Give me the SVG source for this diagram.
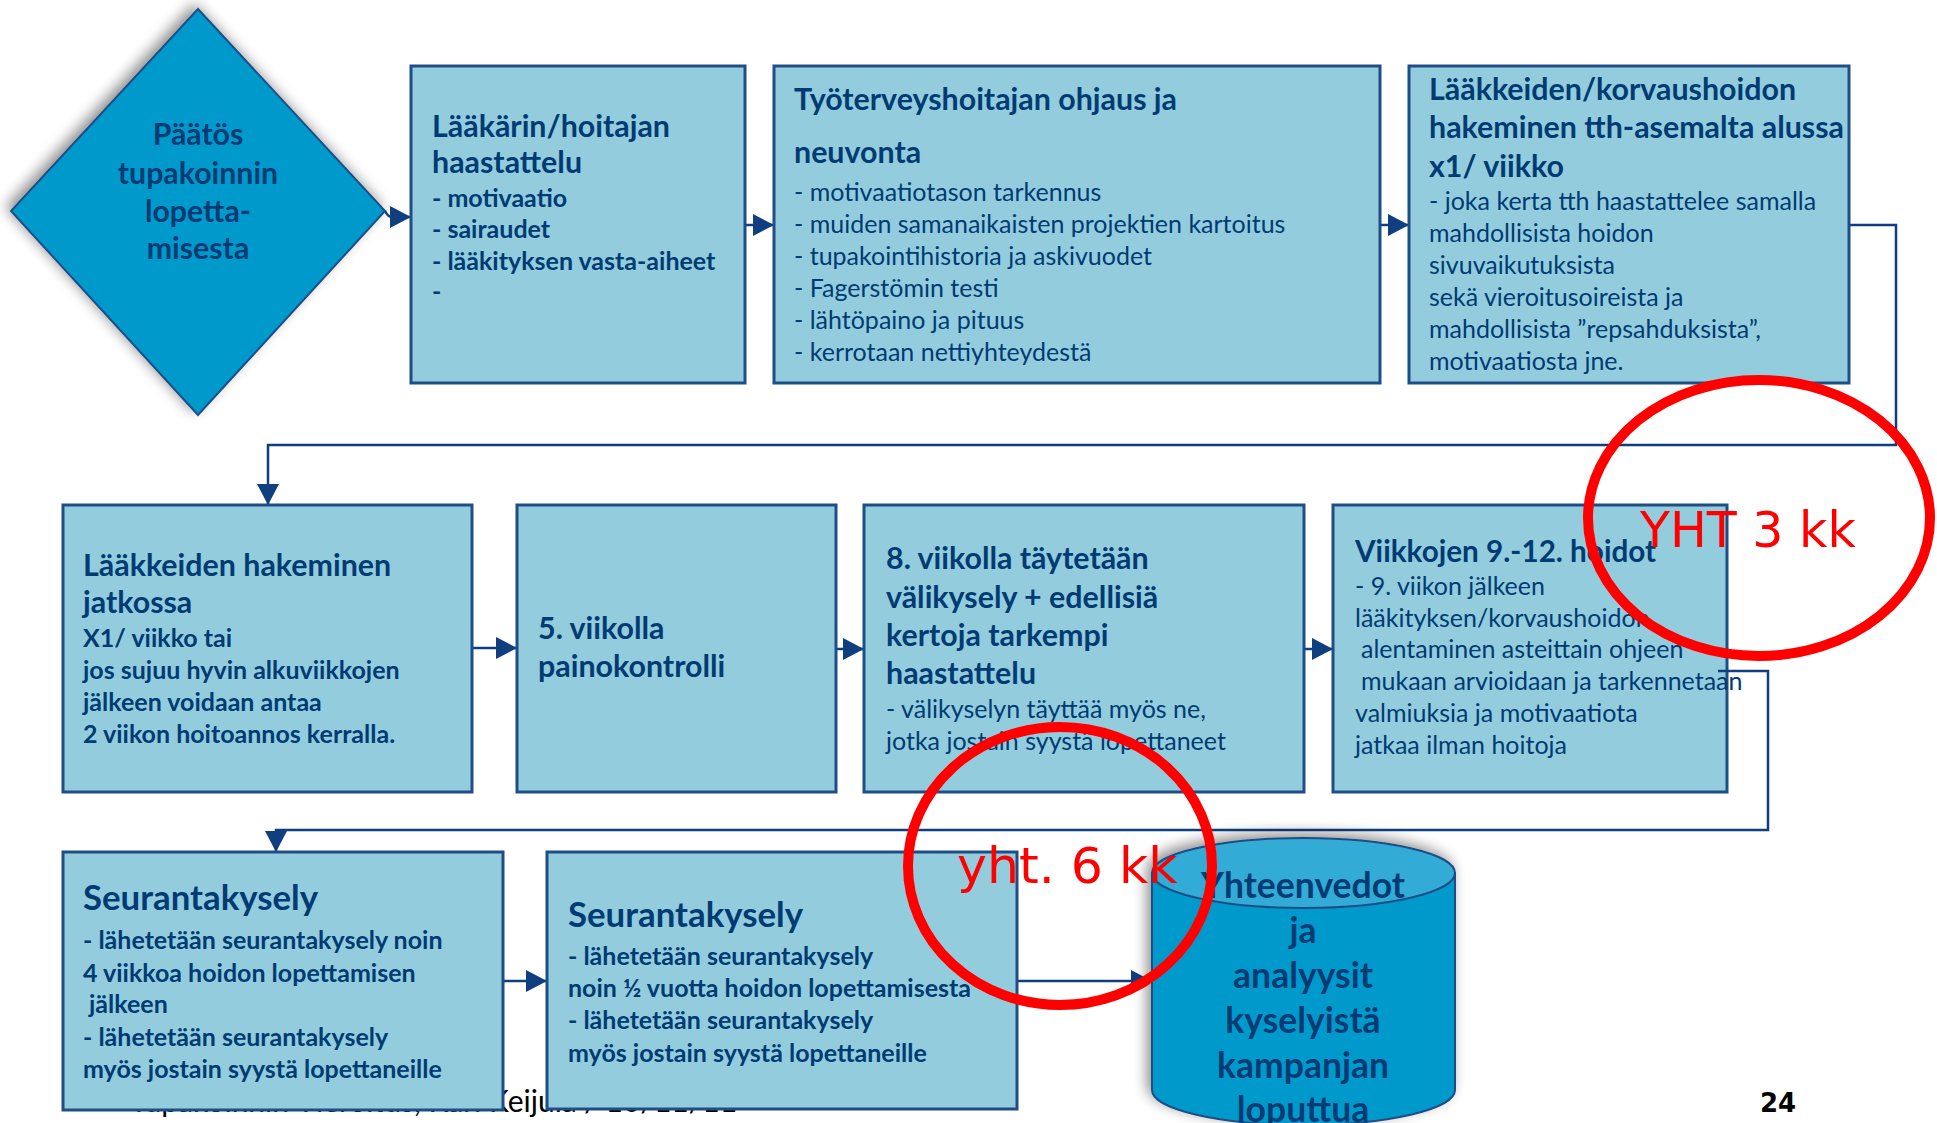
<svg xmlns="http://www.w3.org/2000/svg" width="1937" height="1123" viewBox="0 0 1937 1123">
<style>
.box{fill:#93CDDD;stroke:#1F4E86;stroke-width:3}
.t{font-family:Lato,"Liberation Sans",sans-serif;fill:#003B73}
.b{font-weight:bold}
.h{font-size:30.4px}
.s{font-size:25px}
.con{fill:none;stroke:#0F3F7F;stroke-width:2.5}
.red{fill:none;stroke:#FF0000;stroke-width:10}
.rt{font-family:"DejaVu Sans",sans-serif;fill:#FF0000}
</style>
<defs>
<marker id="ah" markerUnits="userSpaceOnUse" markerWidth="22" markerHeight="22" refX="21" refY="11" orient="auto">
<path d="M0,0 L21,11 L0,22 Z" fill="#0F3F7F"/>
</marker>
<filter id="sh" x="-20%" y="-20%" width="140%" height="140%">
<feGaussianBlur in="SourceAlpha" stdDeviation="7"/>
<feOffset dx="-4" dy="-4" result="b"/>
<feComponentTransfer><feFuncA type="linear" slope="0.45"/></feComponentTransfer>
<feMerge><feMergeNode/><feMergeNode in="SourceGraphic"/></feMerge>
</filter>
</defs>
<rect width="1937" height="1123" fill="#FFFFFF"/>
<text x="130" y="1112" font-family="Lato,'Liberation Sans',sans-serif" font-size="30" fill="#000000">Tupakoinnin Vieroitus, Kari Keijula / 10/11/11</text>
<g id="connectors">
<path class="con" d="M385,211 Q388,217 392,217 L411,217" marker-end="url(#ah)"/>
<path class="con" d="M745,225 L774,225" marker-end="url(#ah)"/>
<path class="con" d="M1380,225 L1409,225" marker-end="url(#ah)"/>
<path class="con" d="M1849,225 L1896,225 L1896,445 L268,445 L268,505" marker-end="url(#ah)"/>
<path class="con" d="M472,648 L517,648" marker-end="url(#ah)"/>
<path class="con" d="M836,649 L864,649" marker-end="url(#ah)"/>
<path class="con" d="M1304,649 L1333,649" marker-end="url(#ah)"/>
<path class="con" d="M503,981 L547,981" marker-end="url(#ah)"/>
<path class="con" d="M1017,981 L1152,981" marker-end="url(#ah)"/>
</g>
<g id="n0">
<polygon points="198,9 385,211 198,415 11,211" fill="#0099CC" stroke="#1F4E86" stroke-width="2" filter="url(#sh)"/>
<g class="t b" font-size="30.3" text-anchor="middle">
<text x="198" y="145">Päätös</text>
<text x="198" y="184">tupakoinnin</text>
<text x="198" y="222">lopetta-</text>
<text x="198" y="259">misesta</text>
</g>
</g>
<g id="n1">
<rect class="box" x="411" y="66" width="334" height="317"/>
<g class="t b">
<text class="h" x="432" y="137">Lääkärin/hoitajan</text>
<text class="h" x="432" y="173">haastattelu</text>
<text class="s" x="432" y="207">- motivaatio</text>
<text class="s" x="432" y="238">- sairaudet</text>
<text class="s" x="432" y="270">- lääkityksen vasta-aiheet</text>
<text class="s" x="432" y="300">-</text>
</g>
</g>
<g id="n2">
<rect class="box" x="774" y="66" width="606" height="317"/>
<g class="t">
<text class="b h" x="794" y="110">Työterveyshoitajan ohjaus ja</text>
<text class="b h" x="794" y="163">neuvonta</text>
<text class="s" x="794" y="201">- motivaatiotason tarkennus</text>
<text class="s" x="794" y="233">- muiden samanaikaisten projektien kartoitus</text>
<text class="s" x="794" y="265">- tupakointihistoria ja askivuodet</text>
<text class="s" x="794" y="297">- Fagerstömin testi</text>
<text class="s" x="794" y="329">- lähtöpaino ja pituus</text>
<text class="s" x="794" y="361">- kerrotaan nettiyhteydestä</text>
</g>
</g>
<g id="n3">
<rect class="box" x="1409" y="66" width="440" height="317"/>
<g class="t">
<text class="b h" x="1429" y="100">Lääkkeiden/korvaushoidon</text>
<text class="b h" x="1429" y="138">hakeminen tth-asemalta alussa</text>
<text class="b h" x="1429" y="177">x1/ viikko</text>
<text class="s" x="1429" y="210">- joka kerta tth haastattelee samalla</text>
<text class="s" x="1429" y="242">mahdollisista hoidon</text>
<text class="s" x="1429" y="274">sivuvaikutuksista</text>
<text class="s" x="1429" y="306">sekä vieroitusoireista ja</text>
<text class="s" x="1429" y="338">mahdollisista ”repsahduksista”,</text>
<text class="s" x="1429" y="370">motivaatiosta jne.</text>
</g>
</g>
<g id="n4">
<rect class="box" x="63" y="505" width="409" height="287"/>
<g class="t b">
<text class="h" x="83" y="576">Lääkkeiden hakeminen</text>
<text class="h" x="83" y="613">jatkossa</text>
<text class="s" x="83" y="647">X1/ viikko tai</text>
<text class="s" x="83" y="679">jos sujuu hyvin alkuviikkojen</text>
<text class="s" x="83" y="711">jälkeen voidaan antaa</text>
<text class="s" x="83" y="743">2 viikon hoitoannos kerralla.</text>
</g>
</g>
<g id="n5">
<rect class="box" x="517" y="505" width="319" height="287"/>
<g class="t b h">
<text x="538" y="639">5. viikolla</text>
<text x="538" y="677">painokontrolli</text>
</g>
</g>
<g id="n6">
<rect class="box" x="864" y="505" width="440" height="287"/>
<g class="t">
<text class="b h" x="886" y="569">8. viikolla täytetään</text>
<text class="b h" x="886" y="608">välikysely + edellisiä</text>
<text class="b h" x="886" y="646">kertoja tarkempi</text>
<text class="b h" x="886" y="684">haastattelu</text>
<text class="s" x="886" y="718">- välikyselyn täyttää myös ne,</text>
<text class="s" x="886" y="750">jotka jostain syystä lopettaneet</text>
</g>
</g>
<g id="n7">
<rect class="box" x="1333" y="505" width="394" height="287"/>
<g class="t">
<text class="b" x="1355" y="562" font-size="29.7">Viikkojen 9.-12. hoidot</text>
<text class="s" x="1355" y="595">- 9. viikon jälkeen</text>
<text class="s" x="1355" y="627">lääkityksen/korvaushoidon</text>
<text class="s" x="1361" y="658">alentaminen asteittain ohjeen</text>
<text class="s" x="1361" y="690">mukaan arvioidaan ja tarkennetaan</text>
<text class="s" x="1355" y="722">valmiuksia ja motivaatiota</text>
<text class="s" x="1355" y="754">jatkaa ilman hoitoja</text>
</g>
</g>
<path class="con" d="M1718,671 L1768,671 L1768,830 L276,830 L276,852" marker-end="url(#ah)"/>
<g id="n8">
<rect class="box" x="63" y="852" width="440" height="258"/>
<g class="t b">
<text x="83" y="910" font-size="34.8">Seurantakysely</text>
<text class="s" x="83" y="949">- lähetetään seurantakysely noin</text>
<text class="s" x="83" y="982">4 viikkoa hoidon lopettamisen</text>
<text class="s" x="89" y="1013">jälkeen</text>
<text class="s" x="83" y="1046">- lähetetään seurantakysely</text>
<text class="s" x="83" y="1078">myös jostain syystä lopettaneille</text>
</g>
</g>
<g id="n9">
<rect class="box" x="547" y="852" width="470" height="257"/>
<g class="t b">
<text x="568" y="927" font-size="34.8">Seurantakysely</text>
<text class="s" x="568" y="965">- lähetetään seurantakysely</text>
<text class="s" x="568" y="997">noin ½ vuotta hoidon lopettamisesta</text>
<text class="s" x="568" y="1029">- lähetetään seurantakysely</text>
<text class="s" x="568" y="1062">myös jostain syystä lopettaneille</text>
</g>
</g>
<g id="n10">
<g filter="url(#sh)">
<path d="M1152,873 L1152,1090 A151.5,35 0 0 0 1455,1090 L1455,873 Z" fill="#0099CC" stroke="#1F4E86" stroke-width="2"/>
<ellipse cx="1303.5" cy="873" rx="151.5" ry="35" fill="#33ACD7" stroke="#1F4E86" stroke-width="2"/>
</g>
<g class="t b" font-size="35.5" text-anchor="middle">
<text x="1303" y="898">Yhteenvedot</text>
<text x="1303" y="943">ja</text>
<text x="1303" y="988">analyysit</text>
<text x="1303" y="1033">kyselyistä</text>
<text x="1303" y="1078">kampanjan</text>
<text x="1303" y="1122">loputtua</text>
</g>
</g>
<text x="1760" y="1112" font-family="'DejaVu Sans',sans-serif" font-weight="bold" font-size="26" fill="#000000">24</text>
<g id="annotations">
<ellipse class="red" cx="1759" cy="518" rx="171" ry="138"/>
<text class="rt" x="1640" y="547" font-size="49">YHT 3 kk</text>
<ellipse class="red" cx="1060" cy="866" rx="152" ry="139"/>
<text class="rt" x="957" y="883" font-size="50.5">yht. 6 kk</text>
</g>
</svg>
